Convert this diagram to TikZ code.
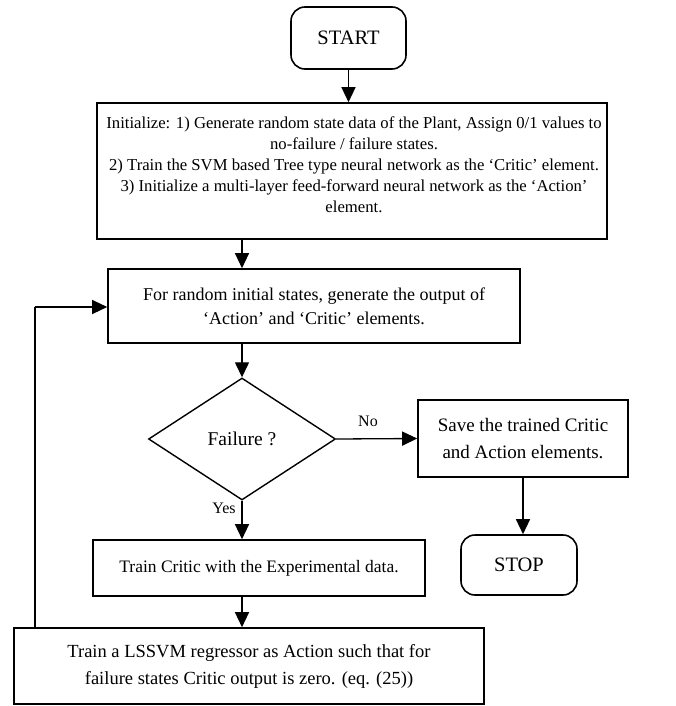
\documentclass[tikz,border=0pt]{standalone}
\usepackage{fontspec}
\setmainfont{Liberation Serif}
\usetikzlibrary{shapes.geometric,arrows.meta}

\newcommand{\fs}[2]{\fontsize{#1}{#2}\selectfont}

\tikzset{
  x=1pt, y=-1pt,
  every node/.style={align=center},
  procbox/.style={draw, line width=1.6pt, rectangle, inner sep=0pt},
  termbox/.style={draw, line width=1.6pt, rectangle, rounded corners=14pt, inner sep=0pt, font=\fs{20.5}{24}},
  decbox/.style={draw, line width=1.4pt, diamond, inner sep=0pt},
  flow/.style={line width=1.3pt, -{Triangle[length=15pt,width=14pt]}},
  plainline/.style={line width=1.3pt},
  lbl/.style={font=\fs{16}{18}}
}

\begin{document}
\begin{tikzpicture}
\useasboundingbox (0,0) rectangle (675,706);

% terminators
\node[termbox, minimum width=115pt, minimum height=62pt] (start) at (348.5,38) {START};
\node[termbox, minimum width=116pt, minimum height=60pt] (stop) at (519,565) {STOP};

% initialisation block: frame and its text
\node[procbox, minimum width=510pt, minimum height=136pt] (init) at (352,171) {};
\node[font=\fs{16.7}{21}] (inittext) at (354,165)
 {Initialize: 1) Generate random state data of the Plant, Assign 0/1 values to\\
  no-failure / failure states.\\
  2) Train the SVM based Tree type neural network as the ‘Critic’ element.\\
  3) Initialize a multi-layer feed-forward neural network as the ‘Action’\\
  element.};

% loop body
\node[procbox, minimum width=412pt, minimum height=74pt, font=\fs{18}{24}] (gen) at (314,306)
 {For random initial states, generate the output of\\
  ‘Action’ and ‘Critic’ elements.};

\node[decbox, minimum width=187pt, minimum height=122pt, font=\fs{19.5}{22}] (fail) at (242,439) {Failure ?};

\node[procbox, minimum width=210pt, minimum height=77pt, font=\fs{19}{27}] (save) at (523,438.5)
 {Save the trained Critic\\ and Action elements.};

\node[procbox, minimum width=332pt, minimum height=56pt, font=\fs{17.5}{21}] (critic) at (259,568)
 {Train Critic with the Experimental data.};

\node[procbox, minimum width=470pt, minimum height=76pt, font=\fs{18.5}{27}] (lssvm) at (249,666)
 {Train a LSSVM regressor as Action such that for\\
  failure states Critic output is zero. (eq. (25))};

% branch labels
\node[lbl] (nolbl) at (368,421) {No};
\node[lbl] (yeslbl) at (224,508) {Yes};

% connectors
\draw[flow] (start.south) -- (start.south |- init.north);
\draw[flow] (init.south -| fail.north) -- (fail.north |- gen.north);
\draw[flow] (gen.south -| fail.north) -- (fail.north);
\draw[flow] (fail.east) -- (save.west);
\draw[flow] (save.south) -- (save.south |- stop.north);
\draw[flow] (fail.south) -- (fail.south |- critic.north);
\draw[flow] (critic.south -| fail.south) -- (fail.south |- lssvm.north);

% feedback path back into the loop
\coordinate (fbbase) at (35,628);
\coordinate (fbtop) at (35,307);
\draw[plainline] (fbbase) -- (fbtop);
\draw[flow] (fbtop) -- (fbtop -| gen.west);
\end{tikzpicture}
\end{document}
